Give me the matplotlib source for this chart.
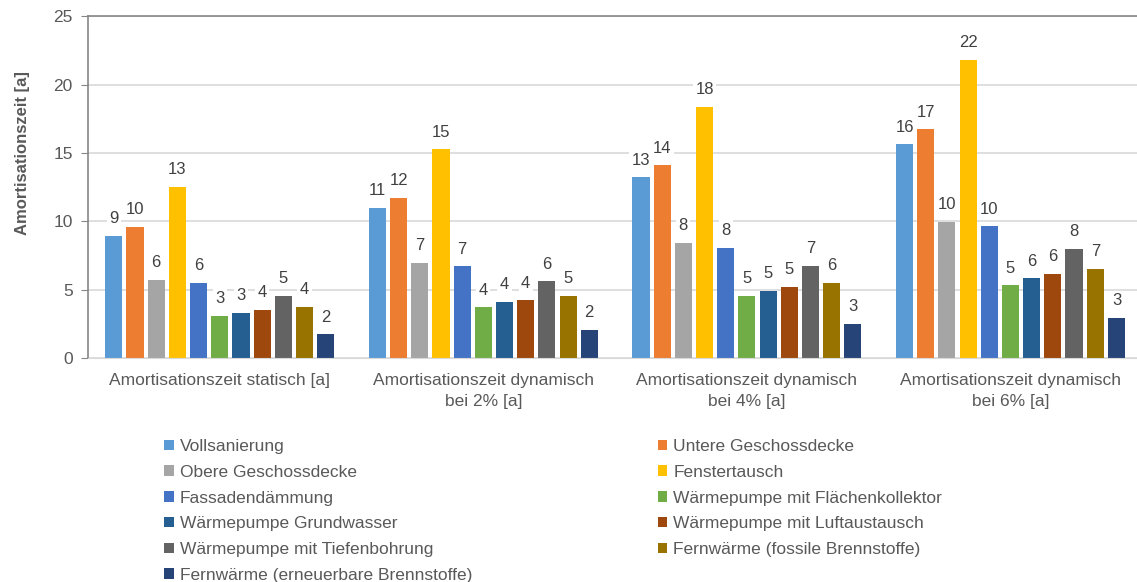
import numpy as np
import matplotlib.pyplot as plt
from matplotlib.patches import Patch

plt.rcParams['font.family'] = ['Liberation Sans', 'DejaVu Sans']

groups = ["Amortisationszeit statisch [a]",
          "Amortisationszeit dynamisch\nbei 2% [a]",
          "Amortisationszeit dynamisch\nbei 4% [a]",
          "Amortisationszeit dynamisch\nbei 6% [a]"]

series = ["Vollsanierung", "Untere Geschossdecke", "Obere Geschossdecke",
          "Fenstertausch", "Fassadendämmung", "Wärmepumpe mit Flächenkollektor",
          "Wärmepumpe Grundwasser", "Wärmepumpe mit Luftaustausch",
          "Wärmepumpe mit Tiefenbohrung", "Fernwärme (fossile Brennstoffe)",
          "Fernwärme (erneuerbare Brennstoffe)"]

colors = ["#5B9BD5", "#ED7D31", "#A5A5A5", "#FFC000", "#4472C4", "#70AD47",
          "#255E91", "#9E480E", "#636363", "#997300", "#264478"]

# values per series, one per group (statisch, 2%, 4%, 6%)
vollsanierung = [8.93, 10.96, 13.21, 15.62]
untere = [9.59, 11.69, 14.08, 16.72]
obere = [5.69, 6.98, 8.42, 9.96]
fenster = [12.50, 15.26, 18.35, 21.79]
fassade = [5.52, 6.71, 8.08, 9.62]
wp_flaeche = [3.07, 3.71, 4.52, 5.32]
wp_grundwasser = [3.29, 4.08, 4.90, 5.83]
wp_luft = [3.52, 4.22, 5.18, 6.13]
wp_tiefe = [4.52, 5.61, 6.76, 7.98]
fern_fossil = [3.73, 4.52, 5.52, 6.52]
fern_erneuerbar = [1.73, 2.08, 2.52, 2.93]

data = [vollsanierung, untere, obere, fenster, fassade, wp_flaeche,
        wp_grundwasser, wp_luft, wp_tiefe, fern_fossil, fern_erneuerbar]

fig = plt.figure(figsize=(11.37, 5.82), dpi=100)
ax = fig.add_axes([88/1137, 1-358/582, 1-88/1137, (358-16.2)/582])

x = np.arange(len(groups))
pitch = 0.0804
width = 0.065
for i, vals in enumerate(data):
    pos = x + (i - 5) * pitch
    bars = ax.bar(pos, vals, width, color=colors[i], label=series[i], zorder=2)
    for b, v in zip(bars, vals):
        ax.annotate("%d" % int(np.floor(v + 0.5)),
                    (b.get_x() + b.get_width()/2, v),
                    xytext=(0, 7), textcoords='offset points',
                    ha='center', va='bottom', fontsize=12, color='#404040',
                    bbox=dict(boxstyle='square,pad=0.15', fc='white', ec='none'),
                    zorder=3)

ax.set_xlim(-0.5, 3.48)
ax.set_ylim(0, 25)
ax.set_yticks([0, 5, 10, 15, 20, 25])
ax.set_xticks(x)
ax.set_xticklabels(groups, linespacing=1.45)
ax.tick_params(axis='x', length=0, pad=11, labelsize=12.5, labelcolor='#595959')
ax.tick_params(axis='y', length=5, pad=6, labelsize=12.5, labelcolor='#595959',
               color='#868686')
ax.yaxis.grid(True, color='#D9D9D9', linewidth=1.2, zorder=0)
ax.set_axisbelow(True)
ax.spines['right'].set_visible(False)
ax.spines['left'].set_color('#868686')
ax.spines['top'].set_color('#868686')
ax.spines['bottom'].set_color('#D9D9D9')
ax.spines['left'].set_linewidth(1.2)
ax.spines['top'].set_linewidth(1.2)

fig.text(23/1137, 1-153/582, "Amortisationszeit [a]", rotation=90,
         ha='center', va='center', fontsize=12, fontweight='bold', color='#595959')

handles = [Patch(facecolor=c) for c in colors]
order = [0, 2, 4, 6, 8, 10, 1, 3, 5, 7, 9]
leg = fig.legend([handles[k] for k in order], [series[k] for k in order],
                 ncol=2, loc='upper left', bbox_to_anchor=(164/1137, 1-439/582),
                 frameon=False, fontsize=12.5, handlelength=0.55, handleheight=0.55,
                 handletextpad=0.35, labelspacing=0.62, columnspacing=10.7,
                 borderaxespad=0, borderpad=0)
for t in leg.get_texts():
    t.set_color('#595959')

fig.savefig("out.png", dpi=100)
